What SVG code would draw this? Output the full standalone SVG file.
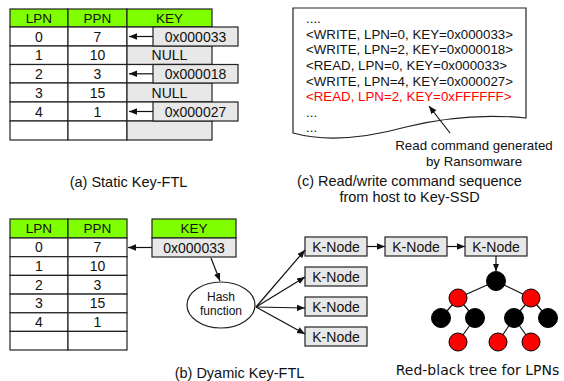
<svg xmlns="http://www.w3.org/2000/svg" width="564" height="381" viewBox="0 0 564 381">
<style>
text{font-family:"Liberation Sans",Arial,sans-serif;fill:#111}
.c{font-size:14px;text-anchor:middle}
.h{font-size:13.5px;text-anchor:middle}
.cmd{font-size:13.3px}
.cap{font-size:14.5px;text-anchor:middle}
.g{fill:#80ff00;stroke:#222;stroke-width:1.2}
.w{fill:#fff;stroke:#222;stroke-width:1.2}
.k{fill:#e8e8e8;stroke:#222;stroke-width:1.2}
.ln{stroke:#111;stroke-width:1.2;fill:none}
.blk{fill:#000;stroke:#000}
.red{fill:#f00;stroke:#000;stroke-width:1}
</style>
<defs>
<marker id="ah" viewBox="0 0 10 10" refX="10" refY="5" markerWidth="8" markerHeight="8" markerUnits="userSpaceOnUse" orient="auto">
<path d="M0,1 L10,5 L0,9 Z" fill="#111"/>
</marker>
</defs>

<g id="table-a">
<rect class="g" x="10" y="9" width="58" height="18"/>
<rect class="g" x="68" y="9" width="59" height="18"/>
<rect class="g" x="127" y="9" width="85" height="18"/>
<text class="h" x="39" y="23">LPN</text>
<text class="h" x="97.5" y="23">PPN</text>
<text class="h" x="169.5" y="23">KEY</text>
<rect class="w" x="10" y="27" width="58" height="19"/><rect class="w" x="68" y="27" width="59" height="19"/><rect class="w" x="127" y="27" width="85" height="19"/>
<rect class="w" x="10" y="46" width="58" height="18.5"/><rect class="w" x="68" y="46" width="59" height="18.5"/><rect class="k" x="127" y="46" width="85" height="18.5"/>
<rect class="w" x="10" y="64.5" width="58" height="18.5"/><rect class="w" x="68" y="64.5" width="59" height="18.5"/><rect class="w" x="127" y="64.5" width="85" height="18.5"/>
<rect class="w" x="10" y="83" width="58" height="19"/><rect class="w" x="68" y="83" width="59" height="19"/><rect class="k" x="127" y="83" width="85" height="19"/>
<rect class="w" x="10" y="102" width="58" height="19"/><rect class="w" x="68" y="102" width="59" height="19"/><rect class="w" x="127" y="102" width="85" height="19"/>
<rect class="w" x="10" y="121" width="58" height="19"/><rect class="w" x="68" y="121" width="59" height="19"/><rect class="k" x="127" y="121" width="85" height="19"/>
<text class="c" x="39" y="41.5">0</text><text class="c" x="97.5" y="41.5">7</text>
<text class="c" x="39" y="60">1</text><text class="c" x="97.5" y="60">10</text><text class="c" x="169.5" y="60">NULL</text>
<text class="c" x="39" y="78.5">2</text><text class="c" x="97.5" y="78.5">3</text>
<text class="c" x="39" y="97.5">3</text><text class="c" x="97.5" y="97.5">15</text><text class="c" x="169.5" y="97.5">NULL</text>
<text class="c" x="39" y="116.5">4</text><text class="c" x="97.5" y="116.5">1</text>
</g>
<g id="keys-a">
<rect class="k" x="153" y="27" width="85" height="19"/><text class="c" x="195.5" y="41.5">0x000033</text>
<rect class="k" x="153" y="64.5" width="85" height="18.5"/><text class="c" x="195.5" y="78.5">0x000018</text>
<rect class="k" x="153" y="102" width="85" height="19"/><text class="c" x="195.5" y="116.5">0x000027</text>
</g>
<text class="cap" x="128.5" y="187">(a) Static Key-FTL</text>

<g id="cmd-doc">
<path d="M293,8 H526 V118 C486,114 446,117 406,127 C366,138 326,142 293,133 Z" fill="#fff" stroke="#222" stroke-width="1.2"/>
<text class="cmd" x="306" y="22.8">....</text>
<text class="cmd" x="306" y="38.5">&lt;WRITE, LPN=0, KEY=0x000033&gt;</text>
<text class="cmd" x="306" y="54.2">&lt;WRITE, LPN=2, KEY=0x000018&gt;</text>
<text class="cmd" x="306" y="69.9">&lt;READ, LPN=0, KEY=0x000033&gt;</text>
<text class="cmd" x="306" y="85.6">&lt;WRITE, LPN=4, KEY=0x000027&gt;</text>
<text class="cmd" x="306" y="101.3" style="fill:#f00">&lt;READ, LPN=2, KEY=0xFFFFFF&gt;</text>
<text class="cmd" x="306" y="116.5">...</text>
<text class="cmd" x="306" y="131.5">...</text>
</g>
<text class="cmd" x="474" y="150" text-anchor="middle">Read command generated</text>
<text class="cmd" x="474" y="166" text-anchor="middle">by Ransomware</text>
<text class="cap" x="409.5" y="185.5">(c) Read/write command sequence</text>
<text class="cap" x="409.5" y="201.5">from host to Key-SSD</text>

<g id="table-b">
<rect class="g" x="10" y="219" width="58" height="19"/>
<rect class="g" x="68" y="219" width="59" height="19"/>
<text class="h" x="39" y="233">LPN</text>
<text class="h" x="97.5" y="233">PPN</text>
<rect class="w" x="10" y="238" width="58" height="18.7"/><rect class="w" x="68" y="238" width="59" height="18.7"/>
<rect class="w" x="10" y="256.7" width="58" height="18.7"/><rect class="w" x="68" y="256.7" width="59" height="18.7"/>
<rect class="w" x="10" y="275.4" width="58" height="18.7"/><rect class="w" x="68" y="275.4" width="59" height="18.7"/>
<rect class="w" x="10" y="294.1" width="58" height="18.7"/><rect class="w" x="68" y="294.1" width="59" height="18.7"/>
<rect class="w" x="10" y="312.8" width="58" height="18.6"/><rect class="w" x="68" y="312.8" width="59" height="18.6"/>
<rect class="w" x="10" y="331.4" width="58" height="18.6"/><rect class="w" x="68" y="331.4" width="59" height="18.6"/>
<text class="c" x="39" y="252.3">0</text><text class="c" x="97.5" y="252.3">7</text>
<text class="c" x="39" y="271">1</text><text class="c" x="97.5" y="271">10</text>
<text class="c" x="39" y="289.7">2</text><text class="c" x="97.5" y="289.7">3</text>
<text class="c" x="39" y="308.4">3</text><text class="c" x="97.5" y="308.4">15</text>
<text class="c" x="39" y="327">4</text><text class="c" x="97.5" y="327">1</text>
</g>
<g id="key-b">
<rect class="g" x="152" y="219" width="84" height="19"/>
<rect class="k" x="152" y="238" width="84" height="19"/>
<text class="h" x="194" y="233">KEY</text>
<text class="c" x="194" y="252.5">0x000033</text>
</g>
<g id="hash">
<ellipse cx="221" cy="305" rx="34" ry="23" fill="#fff" stroke="#222" stroke-width="1.2"/>
<text x="221" y="301" style="font-size:12px;text-anchor:middle">Hash</text>
<text x="221" y="315" style="font-size:12px;text-anchor:middle">function</text>
</g>
<g id="knodes">
<g id="kn1"><rect class="k" x="305" y="237" width="62" height="19"/><text class="c" x="336" y="251.5">K-Node</text></g>
<g id="kn2"><rect class="k" x="305" y="267" width="62" height="19"/><text class="c" x="336" y="281.5">K-Node</text></g>
<g id="kn3"><rect class="k" x="305" y="297" width="62" height="19"/><text class="c" x="336" y="311.5">K-Node</text></g>
<g id="kn4"><rect class="k" x="305" y="327" width="62" height="19"/><text class="c" x="336" y="341.5">K-Node</text></g>
<g id="kn5"><rect class="k" x="385" y="237" width="62" height="19"/><text class="c" x="416" y="251.5">K-Node</text></g>
<g id="kn6"><rect class="k" x="465" y="237" width="62" height="19"/><text class="c" x="496" y="251.5">K-Node</text></g>
</g>
<g id="tree-edges">
<line class="ln" x1="496" y1="281" x2="458" y2="298"/>
<line class="ln" x1="496" y1="281" x2="531" y2="298"/>
<line class="ln" x1="458" y1="298" x2="441" y2="318"/>
<line class="ln" x1="458" y1="298" x2="475" y2="318"/>
<line class="ln" x1="531" y1="298" x2="514" y2="318"/>
<line class="ln" x1="531" y1="298" x2="548" y2="318"/>
<line class="ln" x1="475" y1="318" x2="458" y2="342"/>
<line class="ln" x1="514" y1="318" x2="498" y2="342"/>
<line class="ln" x1="514" y1="318" x2="531" y2="342"/>
</g>
<g id="tree-nodes">
<circle class="blk" cx="496" cy="281" r="9.5"/>
<circle class="red" cx="458" cy="298" r="9"/>
<circle class="red" cx="531" cy="298" r="9"/>
<circle class="blk" cx="441" cy="318" r="9.5"/>
<circle class="blk" cx="475" cy="318" r="9.5"/>
<circle class="blk" cx="514" cy="318" r="9.5"/>
<circle class="blk" cx="548" cy="318" r="9.5"/>
<circle class="red" cx="458" cy="342" r="9"/>
<circle class="red" cx="498" cy="342" r="9"/>
<circle class="red" cx="531" cy="342" r="9"/>
</g>
<g id="connectors">
<line class="ln" x1="153" y1="36.5" x2="129" y2="36.5" marker-end="url(#ah)"/>
<line class="ln" x1="153" y1="73.8" x2="129" y2="73.8" marker-end="url(#ah)"/>
<line class="ln" x1="153" y1="111.5" x2="129" y2="111.5" marker-end="url(#ah)"/>
<line class="ln" x1="450" y1="133" x2="429" y2="106" marker-end="url(#ah)"/>
<line class="ln" x1="152" y1="247.5" x2="128" y2="247.5" marker-end="url(#ah)"/>
<line class="ln" x1="211" y1="258" x2="220" y2="281" marker-end="url(#ah)"/>
<line class="ln" x1="256" y1="307" x2="305" y2="250" marker-end="url(#ah)"/>
<line class="ln" x1="256" y1="307" x2="305" y2="277" marker-end="url(#ah)"/>
<line class="ln" x1="256" y1="307" x2="305" y2="308" marker-end="url(#ah)"/>
<line class="ln" x1="256" y1="307" x2="305" y2="334" marker-end="url(#ah)"/>
<line class="ln" x1="367" y1="246.5" x2="385" y2="246.5" marker-end="url(#ah)"/>
<line class="ln" x1="447" y1="246.5" x2="465" y2="246.5" marker-end="url(#ah)"/>
<line class="ln" x1="496" y1="256" x2="496" y2="271.5" marker-end="url(#ah)"/>
</g>
<text class="cap" x="239.5" y="377.5">(b) Dyamic Key-FTL</text>
<text x="477.5" y="375" style="font-family:'DejaVu Sans',sans-serif;font-size:14px;text-anchor:middle">Red-black tree for LPNs</text>
</svg>
